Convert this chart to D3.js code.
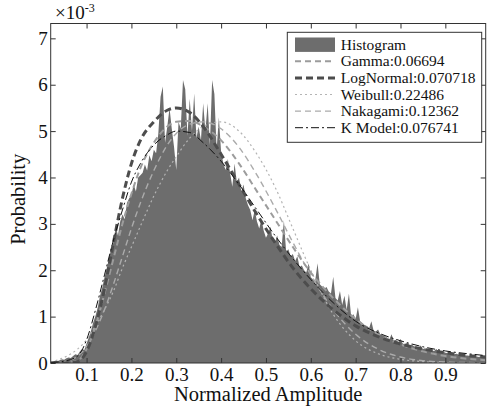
<!DOCTYPE html>
<html lang="en">
<head>
    <meta charset="UTF-8">
    <title>Amplitude distribution fits</title>
    <script src="https://d3js.org/d3.v7.min.js"></script>
    <style>
        body {
            margin: 0;
            background: #fff;
        }
    </style>
</head>
<body>
    <div id="container"></div>

    <script>
        // histogram bins (probability, in units of 1e-3)
        const binStart = 0.02;
        const binWidth = 0.005;
        const histValues = [
            0.02,0.03,0.05,0.04,0.06,0.08,0.07,0.10,0.12,0.11,
            0.15,0.19,0.17,0.25,0.30,0.28,0.42,0.55,0.70,0.88,
            1.02,1.20,1.45,1.62,1.85,2.05,2.25,2.45,2.60,2.95,
            2.75,3.05,3.20,3.10,3.45,3.55,3.62,3.85,3.70,4.00,
            4.05,4.10,4.28,4.15,4.48,4.35,4.60,4.52,4.95,5.74,
            5.96,4.75,5.10,5.50,5.05,4.66,4.16,5.20,5.05,6.10,
            5.90,4.90,5.70,5.00,5.81,4.85,5.10,4.80,5.60,5.00,
            5.60,4.70,6.10,5.80,4.60,5.30,4.55,4.30,4.16,4.40,
            4.10,3.80,4.30,3.90,4.00,3.70,3.85,3.55,3.40,3.30,
            3.08,3.30,3.05,2.90,3.10,2.85,2.70,2.80,2.94,2.65,
            2.60,2.75,2.55,2.50,3.08,2.40,2.45,2.30,2.35,2.20,
            2.30,2.07,2.10,2.00,1.95,2.15,1.85,1.80,1.79,2.15,
            1.70,1.65,1.60,1.64,1.54,1.50,1.86,1.40,1.35,1.55,
            1.25,1.45,1.15,1.50,1.00,1.05,0.95,1.20,0.90,0.85,
            0.82,0.80,0.75,0.90,0.70,0.68,0.72,0.62,0.60,0.58,
            0.55,0.50,0.62,0.48,0.50,0.45,0.52,0.42,0.40,0.44,
            0.38,0.40,0.36,0.35,0.33,0.38,0.30,0.32,0.29,0.28,
            0.27,0.26,0.30,0.24,0.23,0.25,0.22,0.21,0.24,0.20,
            0.19,0.20,0.18,0.17,0.19,0.16,0.16,0.15,0.17,0.14,
            0.14,0.13,0.15,0.12,0.12
        ];

        // fitted curves, read at these amplitudes
        const fitX = [0.02,0.05,0.08,0.10,0.12,0.14,0.16,0.18,0.20,0.22,0.25,0.28,0.30,0.33,0.36,
                      0.40,0.44,0.48,0.52,0.56,0.60,0.65,0.70,0.75,0.80,0.85,0.90,0.95,0.99];
        const gammaFit     = [0,0,0.05,0.3,0.8,1.5,2.25,3.0,3.65,4.2,4.75,5.1,5.2,5.22,5.1,
                              4.8,4.3,3.7,3.1,2.5,1.95,1.4,0.95,0.62,0.4,0.25,0.15,0.09,0.06];
        const logNormalFit = [0,0,0.03,0.25,0.8,1.6,2.6,3.55,4.3,4.8,5.2,5.45,5.5,5.4,5.1,
                              4.5,3.85,3.2,2.6,2.05,1.6,1.15,0.8,0.57,0.41,0.3,0.22,0.16,0.13];
        const weibullFit   = [0.02,0.12,0.3,0.5,0.8,1.15,1.55,2.05,2.5,2.95,3.6,4.15,4.45,4.85,5.1,
                              5.2,5.0,4.5,3.8,2.9,2.0,1.05,0.48,0.2,0.08,0.03,0.01,0,0];
        const nakagamiFit  = [0,0.03,0.15,0.35,0.7,1.15,1.7,2.3,2.9,3.45,4.15,4.7,4.95,5.15,5.2,
                              5.05,4.65,4.05,3.35,2.6,1.9,1.15,0.62,0.3,0.13,0.05,0.02,0.01,0];
        const kModelFit    = [0.01,0.04,0.15,0.5,1.15,1.9,2.65,3.3,3.9,4.3,4.7,4.92,5.0,4.97,4.75,
                              4.35,3.85,3.3,2.75,2.25,1.8,1.3,0.9,0.65,0.48,0.35,0.26,0.2,0.16];

        const seriesNames = ['Gamma:0.06694','LogNormal:0.070718','Weibull:0.22486','Nakagami:0.12362','K Model:0.076741'];
        const xTicks = [0.1,0.2,0.3,0.4,0.5,0.6,0.7,0.8,0.9];
        const yTicks = [0,1,2,3,4,5,6,7];

        const serif = '"Liberation Serif", "Times New Roman", Times, "DejaVu Serif", serif';
        const width = 494, height = 410;
        const plotLeft = 50.7, plotRight = 485.7, plotTop = 23.5, plotBottom = 363;

        const svg = d3.select('#container').append('svg')
            .attr('width', width)
            .attr('height', height);

        const x = d3.scaleLinear().domain([0.02, 0.99]).range([plotLeft, plotRight]);
        const y = d3.scaleLinear().domain([0, 7.32]).range([plotBottom, plotTop]);

        svg.append('clipPath').attr('id', 'plotclip')
            .append('rect')
            .attr('x', plotLeft).attr('y', plotTop)
            .attr('width', plotRight - plotLeft).attr('height', plotBottom - plotTop);

        const plot = svg.append('g').attr('clip-path', 'url(#plotclip)');

        // histogram as filled area
        const histData = histValues.map((v, i) => ({x: binStart + i * binWidth, v: v}));
        const area = d3.area()
            .x(d => x(d.x))
            .y0(y(0))
            .y1(d => y(d.v));

        plot.append('path')
            .datum(histData)
            .attr('d', area)
            .attr('fill', '#6d6d6d');

        // line styles for each fit
        const styles = [
            {vals: gammaFit,     color: '#9c9c9c', w: 2,   dash: '6,4'},
            {vals: logNormalFit, color: '#4d4d4d', w: 3,   dash: '7,4'},
            {vals: weibullFit,   color: '#b4b4b4', w: 1.2, dash: '2,3'},
            {vals: nakagamiFit,  color: '#ababab', w: 1.4, dash: '6,4'},
            {vals: kModelFit,    color: '#111',    w: 1,   dash: '8,3,2,3'}
        ];

        const line = d3.line()
            .x(d => x(d[0]))
            .y(d => y(d[1]))
            .curve(d3.curveMonotoneX);

        // draw order: light ones first, K model on top
        [2, 3, 0, 1, 4].forEach(function(k) {
            const s = styles[k];
            plot.append('path')
                .datum(fitX.map((t, i) => [t, s.vals[i]]))
                .attr('d', line)
                .attr('fill', 'none')
                .attr('stroke', s.color)
                .attr('stroke-width', s.w)
                .attr('stroke-dasharray', s.dash);
        });

        // axes with ticks pointing inward
        const xAxis = svg.append('g')
            .attr('transform', `translate(0,${plotBottom})`)
            .call(d3.axisBottom(x).tickValues(xTicks).tickSize(-5).tickPadding(5).tickFormat(d3.format('.1f')));
        const yAxis = svg.append('g')
            .attr('transform', `translate(${plotLeft},0)`)
            .call(d3.axisLeft(y).tickValues(yTicks).tickSize(-5).tickPadding(3).tickFormat(d3.format('d')));
        svg.append('g')
            .attr('transform', `translate(0,${plotTop})`)
            .call(d3.axisTop(x).tickValues(xTicks).tickSize(-5).tickFormat(''));
        svg.append('g')
            .attr('transform', `translate(${plotRight},0)`)
            .call(d3.axisRight(y).tickValues(yTicks).tickSize(-5).tickFormat(''));

        svg.selectAll('.domain').remove();
        svg.selectAll('.tick line').attr('stroke', '#333');
        xAxis.selectAll('text').attr('font-size', 19);
        yAxis.selectAll('text').attr('font-size', 19);

        svg.append('rect')
            .attr('x', plotLeft).attr('y', plotTop)
            .attr('width', plotRight - plotLeft).attr('height', plotBottom - plotTop)
            .attr('fill', 'none')
            .attr('stroke', '#333')
            .attr('stroke-width', 1);

        // exponent label
        const expo = svg.append('text')
            .attr('x', 55).attr('y', 19)
            .attr('font-size', 19);
        expo.append('tspan').text('×10');
        expo.append('tspan').text('-3')
            .attr('dy', -7)
            .attr('font-size', 12);

        // axis titles
        svg.append('text')
            .attr('x', (plotLeft + plotRight) / 2)
            .attr('y', 401)
            .attr('text-anchor', 'middle')
            .attr('font-size', 20.5)
            .text('Normalized Amplitude');

        svg.append('text')
            .attr('transform', `translate(25,${(plotTop + plotBottom) / 2 + 6}) rotate(-90)`)
            .attr('text-anchor', 'middle')
            .attr('font-size', 20.5)
            .text('Probability');

        // legend
        const legend = svg.append('g');
        legend.append('rect')
            .attr('x', 287.3).attr('y', 32.3)
            .attr('width', 194.4).attr('height', 110)
            .attr('fill', '#fff')
            .attr('stroke', '#333');

        const rowY = i => 44.7 + i * 16.6;

        legend.append('rect')
            .attr('x', 295).attr('y', rowY(0) - 7.2)
            .attr('width', 40).attr('height', 14.4)
            .attr('fill', '#6d6d6d');
        legend.append('text')
            .attr('x', 340.7).attr('y', rowY(0) + 5)
            .attr('font-size', 15.5)
            .text('Histogram');

        seriesNames.forEach(function(name, i) {
            const s = styles[i];
            legend.append('line')
                .attr('x1', 295).attr('x2', 335)
                .attr('y1', rowY(i + 1)).attr('y2', rowY(i + 1))
                .attr('stroke', s.color)
                .attr('stroke-width', s.w)
                .attr('stroke-dasharray', s.dash);
            legend.append('text')
                .attr('x', 340.7).attr('y', rowY(i + 1) + 5)
                .attr('font-size', 15.5)
                .text(name);
        });

        // serif font on every text, axis groups included
        svg.selectAll('text')
            .style('font-family', serif)
            .attr('fill', '#111');
    </script>
</body>
</html>
